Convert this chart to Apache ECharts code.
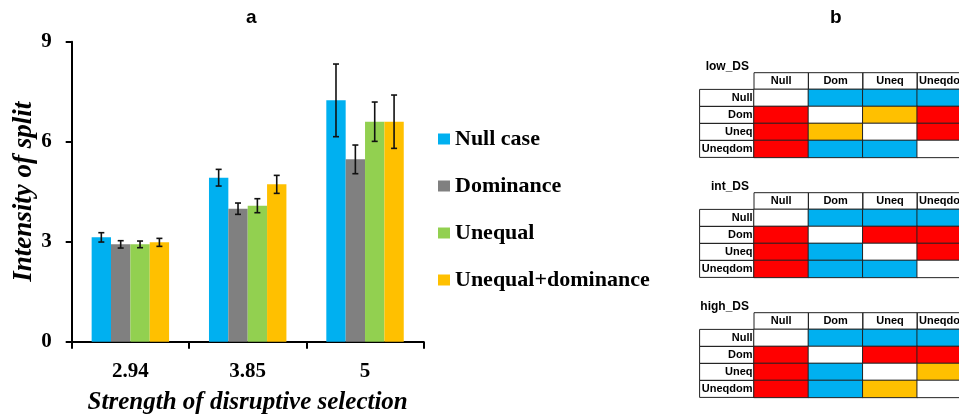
<!DOCTYPE html>
<html><head><meta charset="utf-8">
<script src="https://cdn.jsdelivr.net/npm/echarts@6/dist/echarts.min.js"></script>
<style>html,body{margin:0;padding:0;background:#fff}#c{width:959px;height:416px}</style>
</head><body><div id="c"></div>
<script>
// ---- data ----
const categories = ['2.94', '3.85', '5'];
const seriesNames = ['Null case', 'Dominance', 'Unequal', 'Unequal+dominance'];
const nullCase = [3.13, 4.92, 7.24];
const dominance = [2.92, 3.99, 5.47];
const unequal = [2.92, 4.08, 6.60];
const unequalDom = [2.98, 4.72, 6.60];
const errNull = [0.14, 0.25, 1.09];
const errDom = [0.11, 0.17, 0.43];
const errUneq = [0.10, 0.21, 0.59];
const errUneqDom = [0.12, 0.27, 0.80];
const yTicks = [0, 3, 6, 9];

const tableLabels = ['Null', 'Dom', 'Uneq', 'Uneqdom'];
const tableNames = ['low_DS', 'int_DS', 'high_DS'];
// codes: 0 = white (same), 1 = blue, 2 = red, 3 = yellow
const lowDS = [[0,1,1,1],[2,0,3,2],[2,3,0,2],[2,1,1,0]];
const intDS = [[0,1,1,1],[2,0,2,2],[2,1,0,2],[2,1,1,0]];
const highDS = [[0,1,1,1],[2,0,2,2],[2,1,0,3],[2,1,3,0]];

// ---- styles ----
const barColors = ['#00B0F0', '#808080', '#92D050', '#FFC000'];
const cellColors = ['#FFFFFF', '#00B0F0', '#FF0000', '#FFC000'];
const serif = 'Liberation Serif';
const sans = 'Liberation Sans';

const values = [nullCase, dominance, unequal, unequalDom];
const errs = [errNull, errDom, errUneq, errUneqDom];
const matrices = [lowDS, intDS, highDS];
const tableTops = [72.7, 192.7, 312.7];
const headerH = 16.7, rowH = 17, colW = 54.4, tableLeft = 754;
const tableFont = 11;

const catGapFrac = 0.34;

const grids = [{left: 71.7, top: 41.7, width: 352, height: 300, outerBoundsMode: 'none', containLabel: false}];
const xAxes = [{
  type: 'category', data: categories, gridIndex: 0,
  axisLine: {lineStyle: {color: '#000', width: 2}},
  axisTick: {show: true, length: 7, lineStyle: {color: '#000', width: 2}},
  axisLabel: {color: '#000', fontFamily: serif, fontWeight: 'bold', fontSize: 21, margin: 19},
  name: 'Strength of disruptive selection', nameLocation: 'middle', nameGap: 48,
  nameMoveOverlap: false,
  nameTextStyle: {color: '#000', fontFamily: serif, fontWeight: 'bold', fontStyle: 'italic', fontSize: 25}
}];
const yAxes = [{
  type: 'value', min: 0, max: 9, interval: 3, gridIndex: 0,
  axisLine: {show: true, lineStyle: {color: '#000', width: 2}},
  axisTick: {show: true, length: 6, lineStyle: {color: '#000', width: 2}},
  splitLine: {show: false},
  axisLabel: {color: '#000', fontFamily: serif, fontWeight: 'bold', fontSize: 21, margin: 20,
    formatter: v => yTicks.includes(v) ? String(v) : ''},
  name: 'Intensity of split', nameLocation: 'middle', nameGap: 34, nameRotate: 90,
  nameMoveOverlap: false,
  nameTextStyle: {color: '#000', fontFamily: serif, fontWeight: 'bold', fontStyle: 'italic', fontSize: 27}
}];

const series = [];
values.forEach((vals, i) => {
  series.push({
    type: 'bar', name: seriesNames[i], data: vals, xAxisIndex: 0, yAxisIndex: 0,
    barGap: '0%', barCategoryGap: (catGapFrac * 100) + '%',
    itemStyle: {color: barColors[i]}, emphasis: {disabled: true}
  });
});
values.forEach((vals, i) => {
  series.push({
    type: 'custom', xAxisIndex: 0, yAxisIndex: 0, silent: true, z: 10,
    data: vals.map((v, k) => [k, v, errs[i][k]]),
    renderItem: (params, api) => {
      const k = api.value(0), v = api.value(1), e = api.value(2);
      const band = api.size([1, 0])[0];
      const groupW = band * (1 - catGapFrac);
      const barW = groupW / 4;
      const off = -groupW / 2 + barW * (i + 0.5);
      const hi = api.coord([k, v + e]);
      const lo = api.coord([k, v - e]);
      const x = hi[0] + off;
      const cap = 3;
      const st = {stroke: '#111', lineWidth: 1.6};
      return {type: 'group', children: [
        {type: 'line', shape: {x1: x, y1: hi[1], x2: x, y2: lo[1]}, style: st},
        {type: 'line', shape: {x1: x - cap, y1: hi[1], x2: x + cap, y2: hi[1]}, style: st},
        {type: 'line', shape: {x1: x - cap, y1: lo[1], x2: x + cap, y2: lo[1]}, style: st}
      ]};
    }
  });
});

const titles = [
  {text: 'a', left: 241, top: 3, textStyle: {fontFamily: sans, fontWeight: 'bold', fontSize: 19, color: '#000'}},
  {text: 'b', left: 825, top: 3, textStyle: {fontFamily: sans, fontWeight: 'bold', fontSize: 19, color: '#000'}}
];

matrices.forEach((m, t) => {
  const gi = t + 1;
  const top = tableTops[t] + headerH;
  grids.push({left: tableLeft, top: top, width: colW * 4, height: rowH * 4, outerBoundsMode: 'none', containLabel: false});
  xAxes.push({
    type: 'category', data: tableLabels, gridIndex: gi, position: 'top',
    axisLine: {show: false}, axisTick: {show: false}, splitLine: {show: false},
    axisLabel: {interval: 0, margin: 0, hideOverlap: false, color: '#000', fontFamily: sans, fontWeight: 'bold', fontSize: tableFont,
      width: colW, height: headerH, lineHeight: headerH, align: 'center', verticalAlign: 'bottom',
      overflow: 'none', borderColor: '#222', borderWidth: 1}
  });
  yAxes.push({
    type: 'category', data: tableLabels, gridIndex: gi, inverse: true,
    axisLine: {show: false}, axisTick: {show: false}, splitLine: {show: false},
    axisLabel: {interval: 0, margin: 0, hideOverlap: false, color: '#000', fontFamily: sans, fontWeight: 'bold', fontSize: tableFont,
      width: colW - 1.5, height: rowH, lineHeight: rowH, align: 'right', padding: [0, 1.5, 0, 0],
      overflow: 'none', borderColor: '#222', borderWidth: 1}
  });
  const data = [];
  m.forEach((row, r) => row.forEach((code, c) => data.push([c, r, code])));
  series.push({
    type: 'heatmap', xAxisIndex: gi, yAxisIndex: gi, data: data, silent: true,
    itemStyle: {borderColor: '#222', borderWidth: 1}, label: {show: false}
  });
  titles.push({text: tableNames[t], right: 959 - 754, top: tableTops[t] - 17,
    textStyle: {fontFamily: sans, fontWeight: 'bold', fontSize: 12, color: '#000'}});
});

const heatIdx = series.map((s, i) => s.type === 'heatmap' ? i : -1).filter(i => i >= 0);

const option = {
  animation: false,
  backgroundColor: '#fff',
  title: titles,
  grid: grids,
  xAxis: xAxes,
  yAxis: yAxes,
  legend: {
    data: seriesNames, orient: 'vertical', left: 433, top: 123,
    icon: 'rect', itemWidth: 12, itemHeight: 11, itemGap: 25,
    selectedMode: false,
    textStyle: {color: '#000', fontFamily: serif, fontWeight: 'bold', fontSize: 22, lineHeight: 20}
  },
  visualMap: {
    type: 'piecewise', show: false, dimension: 2, seriesIndex: heatIdx,
    pieces: cellColors.map((col, i) => ({value: i, color: col}))
  },
  series: series
};
const chart = echarts.init(document.getElementById('c'), null, {renderer: 'canvas'});
chart.setOption(option);
</script></body></html>
